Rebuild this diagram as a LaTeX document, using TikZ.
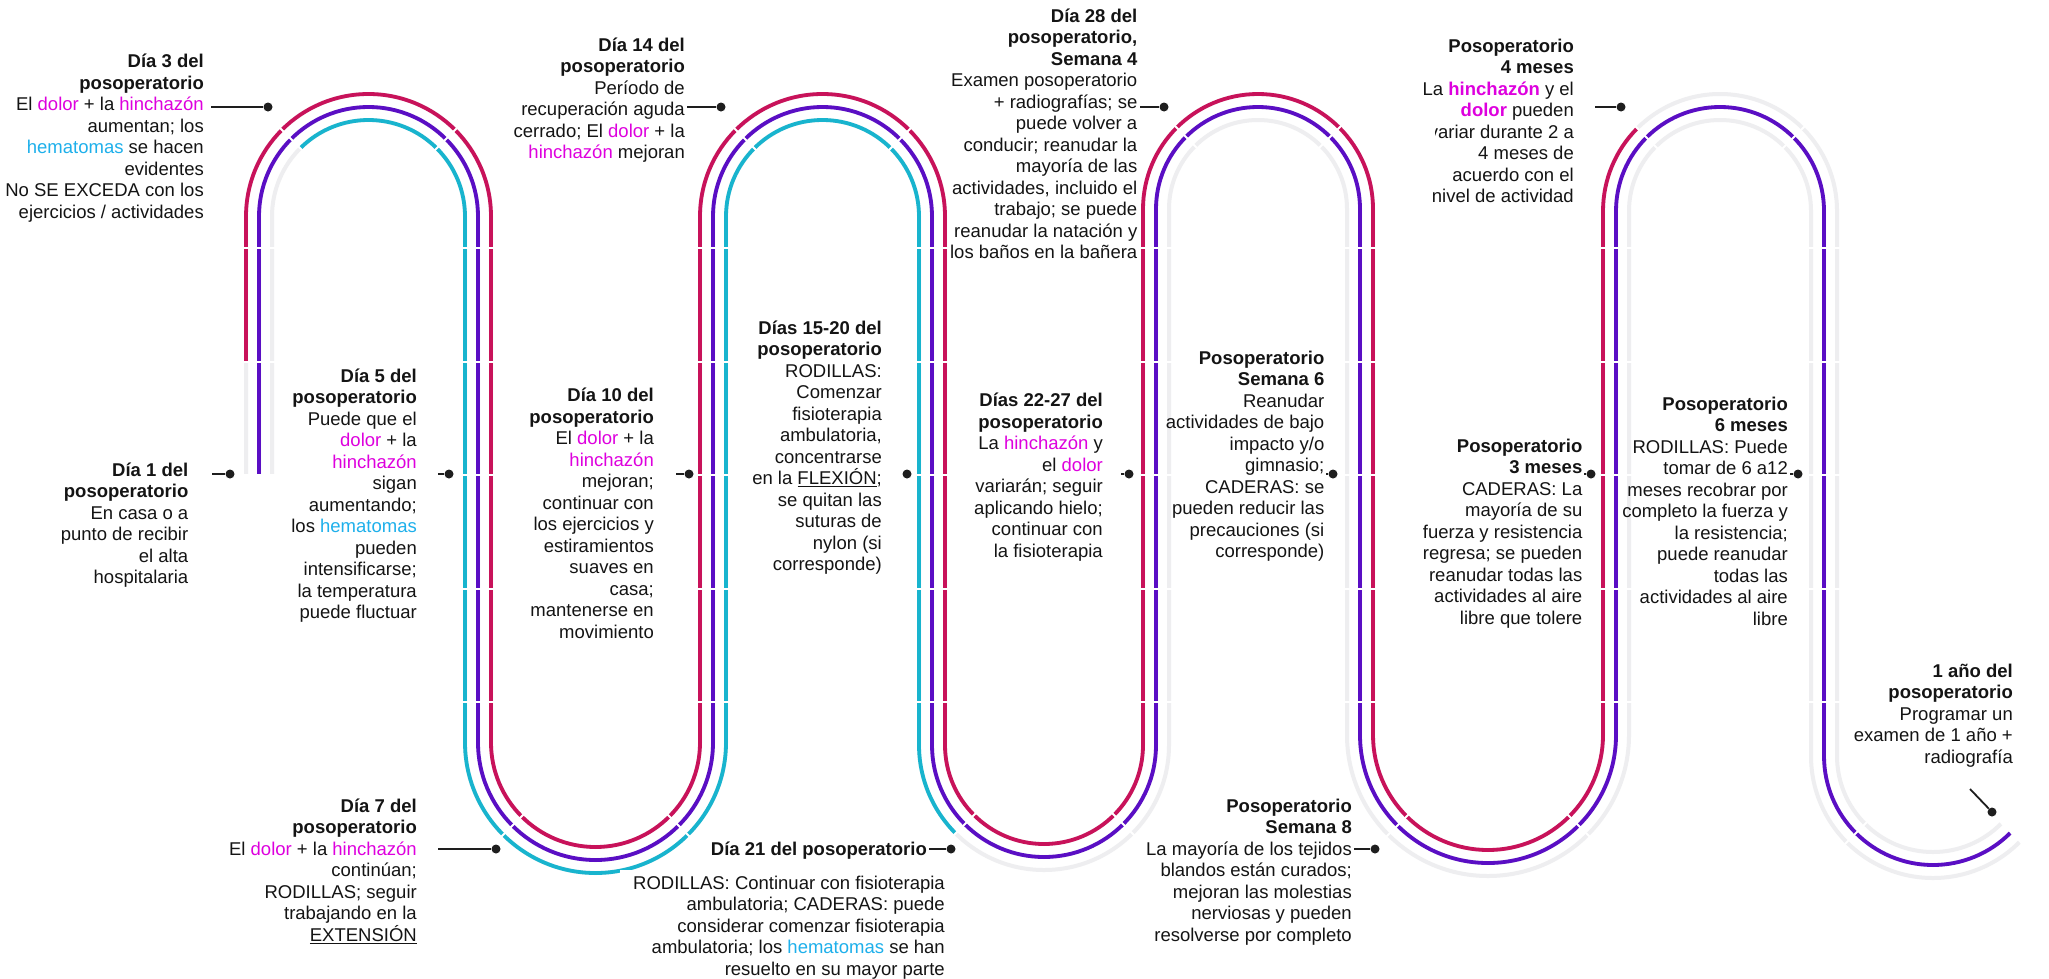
\documentclass[tikz,border=0pt]{standalone}
\usepackage{fontspec}
\setmainfont{Liberation Sans}
\definecolor{lanered}{RGB}{200,18,90}
\definecolor{lanepur}{RGB}{90,14,196}
\definecolor{lanecya}{RGB}{24,180,206}
\definecolor{ghostc}{RGB}{238,238,240}
\definecolor{magtxt}{RGB}{222,0,222}
\definecolor{cyatxt}{RGB}{30,176,235}
\definecolor{txtc}{RGB}{20,20,20}
\definecolor{dotc}{RGB}{30,30,30}
\newcommand{\magw}[1]{\textcolor{magtxt}{#1}}
\newcommand{\cyw}[1]{\textcolor{cyatxt}{#1}}
\begin{document}
\begin{tikzpicture}[x=1pt,y=1pt,
  lane/.style={line width=3.8pt},
  ghost/.style={draw=ghostc,line width=4pt},
  brk/.style={draw=white,line width=2pt},
  txt/.style={anchor=base east,align=right,inner sep=0pt,font=\fontsize{18.5pt}{21.5pt}\selectfont,text=txtc},
  dot/.style={circle,fill=dotc,inner sep=0pt,minimum size=9pt},
  conn/.style={draw=dotc,line width=1.8pt}]
\useasboundingbox (0,0) rectangle (2049,-978);
\fill[white] (0,0) rectangle (2049,-978);

% ghost lanes
\foreach \d in {13,0,-13}{
  \draw[ghost] ({259-(\d)},-475) -- ({259-(\d)},-216.5)
    arc[start angle=180,end angle=0,radius={109.5+(\d)}] -- ({478+(\d)},-742.5)
    arc[start angle=180,end angle=360,radius={117.5-(\d)}] -- ({713-(\d)},-216.5)
    arc[start angle=180,end angle=0,radius={109.5+(\d)}] -- ({932+(\d)},-745)
    arc[start angle=180,end angle=360,radius={112-(\d)}] -- ({1156-(\d)},-209)
    arc[start angle=180,end angle=0,radius={102+(\d)}] -- ({1360+(\d)},-735)
    arc[start angle=180,end angle=360,radius={128-(\d)}] -- ({1616-(\d)},-211)
    arc[start angle=180,end angle=0,radius={104+(\d)}] -- ({1824+(\d)},-756)
    arc[start angle=180,end angle=315,radius={109-(\d)}];
}

% red lane
\draw[lane,draw=lanered] (246,-362) -- (246,-216.5)
  arc[start angle=180,end angle=0,radius=122.5] -- (491,-742.5)
  arc[start angle=180,end angle=360,radius=104.5] -- (700,-216.5)
  arc[start angle=180,end angle=0,radius=122.5] -- (945,-745)
  arc[start angle=180,end angle=360,radius=99] -- (1143,-209)
  arc[start angle=180,end angle=0,radius=115] -- (1373,-735)
  arc[start angle=180,end angle=360,radius=115] -- (1603,-211)
  arc[start angle=180,end angle=135,radius=117];
% purple lane
\draw[lane,draw=lanepur] (259,-475) -- (259,-216.5)
  arc[start angle=180,end angle=0,radius=109.5] -- (478,-742.5)
  arc[start angle=180,end angle=360,radius=117.5] -- (713,-216.5)
  arc[start angle=180,end angle=0,radius=109.5] -- (932,-745)
  arc[start angle=180,end angle=360,radius=112] -- (1156,-209)
  arc[start angle=180,end angle=0,radius=102] -- (1360,-735)
  arc[start angle=180,end angle=360,radius=128] -- (1616,-211)
  arc[start angle=180,end angle=0,radius=104] -- (1824,-756)
  arc[start angle=180,end angle=315,radius=109];
% cyan lane
\draw[lane,draw=lanecya] (368.5,-216.5) ++(135:96.5)
  arc[start angle=135,end angle=0,radius=96.5] -- (465,-742.5)
  arc[start angle=180,end angle=360,radius=130.5] -- (726,-216.5)
  arc[start angle=180,end angle=0,radius=96.5] -- (919,-745)
  arc[start angle=180,end angle=225,radius=125];

% segment breaks
\foreach \px in {259,478,713,932,1156,1360,1616,1824}
  \foreach \py in {248,361.5,475,588.5,702}
    \draw[brk] (\px-18,-\py) -- (\px+18,-\py);
\foreach \px/\py/\pr in {368.5/216.5/109.5,822.5/216.5/109.5,1258/209/102,1720/211/104}
  \foreach \pa in {45,135}
    \draw[brk] (\px,-\py) ++(\pa:\pr-20) -- ++(\pa:40);
\foreach \px/\py/\pr in {595.5/742.5/117.5,1044/745/112,1488/735/128}
  \foreach \pa in {225,315}
    \draw[brk] (\px,-\py) ++(\pa:\pr-20) -- ++(\pa:40);
\draw[brk] (1933,-756) ++(225:89) -- ++(225:40);

% texts (anchor = baseline of the last line)
\node[txt] (t1) at (188.5,-583.5) {\textbf{Día 1 del}\\\textbf{posoperatorio}\\En casa o a\\punto de recibir\\el alta\\hospitalaria};
\node[txt] (t3) at (204,-218) {\textbf{Día 3 del}\\\textbf{posoperatorio}\\El \magw{dolor} + la \magw{hinchazón}\\aumentan; los\\\cyw{hematomas} se hacen\\evidentes\\No SE EXCEDA con los\\ejercicios / actividades};
\node[txt] (t5) at (417,-618.5) {\textbf{Día 5 del}\\\textbf{posoperatorio}\\Puede que el\\\magw{dolor} + la\\\magw{hinchazón}\\sigan\\aumentando;\\los \cyw{hematomas}\\pueden\\intensificarse;\\la temperatura\\puede fluctuar};
\node[txt] (t7) at (417,-941.3) {\textbf{Día 7 del}\\\textbf{posoperatorio}\\El \magw{dolor} + la \magw{hinchazón}\\continúan;\\RODILLAS; seguir\\trabajando en la\\\underline{EXTENSIÓN}};
\node[txt] (t14) at (685,-158.5) {\textbf{Día 14 del}\\\textbf{posoperatorio}\\Período de\\recuperación aguda\\cerrado; El \magw{dolor} + la\\\magw{hinchazón} mejoran};
\node[txt] (t10) at (654,-638.2) {\textbf{Día 10 del}\\\textbf{posoperatorio}\\El \magw{dolor} + la\\\magw{hinchazón}\\mejoran;\\continuar con\\los ejercicios y\\estiramientos\\suaves en\\casa;\\mantenerse en\\movimiento};
\node[txt] (t15) at (882,-570.8) {\textbf{Días 15-20 del}\\\textbf{posoperatorio}\\RODILLAS:\\Comenzar\\fisioterapia\\ambulatoria,\\concentrarse\\en la \underline{FLEXIÓN};\\se quitan las\\suturas de\\nylon (si\\corresponde)};
\node[txt] (t21) at (927,-855.7) {\textbf{Día 21 del posoperatorio}};
\node[txt,fill=white,inner xsep=13pt,inner ysep=6pt] (t21b) at (958,-975) {RODILLAS: Continuar con fisioterapia\\ambulatoria; CADERAS: puede\\considerar comenzar fisioterapia\\ambulatoria; los \cyw{hematomas} se han\\resuelto en su mayor parte};
\node[txt] (t28) at (1137.5,-258.8) {\textbf{Día 28 del}\\\textbf{posoperatorio,}\\\textbf{Semana 4}\\Examen posoperatorio\\+ radiografías; se\\puede volver a\\conducir; reanudar la\\mayoría de las\\actividades, incluido el\\trabajo; se puede\\reanudar la natación y\\los baños en la bañera};
\node[txt] (t22) at (1103,-557.2) {\textbf{Días 22-27 del}\\\textbf{posoperatorio}\\La \magw{hinchazón} y\\el \magw{dolor}\\variarán; seguir\\aplicando hielo;\\continuar con\\la fisioterapia};
\node[txt] (ts6) at (1324.5,-557.8) {\textbf{Posoperatorio}\\\textbf{Semana 6}\\Reanudar\\actividades de bajo\\impacto y/o\\gimnasio;\\CADERAS: se\\pueden reducir las\\precauciones (si\\corresponde)};
\node[txt] (ts8) at (1352,-941.3) {\textbf{Posoperatorio}\\\textbf{Semana 8}\\La mayoría de los tejidos\\blandos están curados;\\mejoran las molestias\\nerviosas y pueden\\resolverse por completo};
\node[txt] (t4m) at (1574,-202.8) {\textbf{Posoperatorio}\\\textbf{4 meses}\\La \textbf{\magw{hinchazón}} y el\\\textbf{\magw{dolor}} pueden\\variar durante 2 a\\4 meses de\\acuerdo con el\\nivel de actividad};
\fill[white] (1418,-124) rectangle (1434.5,-143);
\node[txt] (t3m) at (1582.5,-624.3) {\textbf{Posoperatorio}\\\textbf{3 meses}\\CADERAS: La\\mayoría de su\\fuerza y resistencia\\regresa; se pueden\\reanudar todas las\\actividades al aire\\libre que tolere};
\node[txt] (t6m) at (1788,-625) {\textbf{Posoperatorio}\\\textbf{6 meses}\\RODILLAS: Puede\\tomar de 6 a12\\meses recobrar por\\completo la fuerza y\\la resistencia;\\puede reanudar\\todas las\\actividades al aire\\libre};
\node[txt] (t1y) at (2013,-763.3) {\textbf{1 año del}\\\textbf{posoperatorio}\\Programar un\\examen de 1 año +\\radiografía};

% markers
\node[dot] (m1) at (230,-474) {};
\node[dot] (m3) at (268,-107) {};
\node[dot] (m5) at (449,-474) {};
\node[dot] (m7) at (496,-849) {};
\node[dot] (m10) at (689,-474) {};
\node[dot] (m14) at (721,-107) {};
\node[dot] (m15) at (907,-474) {};
\node[dot] (m21) at (951,-849) {};
\node[dot] (m28) at (1164,-107) {};
\node[dot] (m22) at (1129,-474) {};
\node[dot] (ms6) at (1333,-474) {};
\node[dot] (ms8) at (1375,-849) {};
\node[dot] (m4m) at (1621,-107) {};
\node[dot] (m3m) at (1591,-474) {};
\node[dot] (m6m) at (1798,-474) {};
\node[dot] (m1y) at (1992,-812) {};

\coordinate (c1) at (212,-474);
\coordinate (c3) at (211,-107);
\coordinate (c5) at (438,-474);
\coordinate (c7) at (438,-849);
\coordinate (c10) at (676,-474);
\coordinate (c14) at (687,-107);
\coordinate (c21) at (929,-849);
\coordinate (c28) at (1140,-107);
\coordinate (c22) at (1121,-474);
\coordinate (cs6) at (1326,-474);
\coordinate (cs8) at (1354,-849);
\coordinate (c4m) at (1595,-107);
\coordinate (c3m) at (1584,-474);
\coordinate (c6m) at (1790,-474);
\coordinate (c1y) at (1970,-789);

\draw[conn] (c1) -- (m1);
\draw[conn] (c3) -- (m3);
\draw[conn] (c5) -- (m5);
\draw[conn] (c7) -- (m7);
\draw[conn] (c10) -- (m10);
\draw[conn] (c14) -- (m14);
\draw[conn] (c21) -- (m21);
\draw[conn] (c28) -- (m28);
\draw[conn] (c22) -- (m22);
\draw[conn] (cs6) -- (ms6);
\draw[conn] (cs8) -- (ms8);
\draw[conn] (c4m) -- (m4m);
\draw[conn] (c3m) -- (m3m);
\draw[conn] (c6m) -- (m6m);
\draw[conn] (c1y) -- (m1y);
\end{tikzpicture}
\end{document}
